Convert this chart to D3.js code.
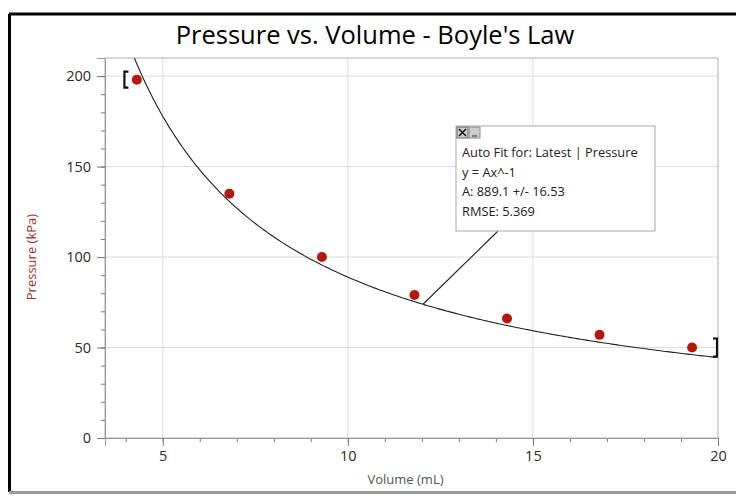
<!DOCTYPE html>
<html>
<head>
<meta charset="utf-8">
<script src="https://cdn.jsdelivr.net/npm/d3@7"></script>
<style>
  body { margin: 0; background: #fff; }
  svg { display: block; font-family: "Open Sans", "DejaVu Sans", sans-serif; }
</style>
</head>
<body>
<div id="chart"></div>
<script>
(function () {
    // Data
    var volume = [4.3, 6.8, 9.3, 11.8, 14.3, 16.8, 19.3];
    var pressure = [198, 135, 100, 79, 66, 57, 50];

    // Fit result shown in the box (y = A/x)
    var fitA = 889.1;
    var fitRange = [4.1, 20];
    var fitLines = ["Auto Fit for: Latest | Pressure", "y = Ax^-1", "A: 889.1 +/- 16.53", "RMSE: 5.369"];

    var xTicks = [5, 10, 15, 20];
    var yTicks = [0, 50, 100, 150, 200];

    var width = 736, height = 496;
    var margin = { top: 58, right: 18, bottom: 58, left: 105 };
    var innerWidth = width - margin.left - margin.right;
    var innerHeight = height - margin.top - margin.bottom;

    var svg = d3.select("#chart").append("svg")
        .attr("width", width)
        .attr("height", height);

    // Window frame
    svg.append("line").attr("x1", 9).attr("x2", width).attr("y1", 14).attr("y2", 14)
        .attr("stroke", "#000").attr("stroke-width", 3);
    svg.append("line").attr("x1", 9.5).attr("x2", 9.5).attr("y1", 14).attr("y2", 492)
        .attr("stroke", "#000").attr("stroke-width", 3);
    svg.append("rect").attr("x", 9).attr("y", 491).attr("width", width).attr("height", 3)
        .attr("fill", "#9a9a9a");

    // Title
    svg.append("text")
        .attr("x", 375).attr("y", 44)
        .attr("text-anchor", "middle")
        .attr("font-size", 25.5)
        .attr("fill", "#000")
        .text("Pressure vs. Volume - Boyle's Law");

    var g = svg.append("g").attr("transform", `translate(${margin.left}, ${margin.top})`);

    var x = d3.scaleLinear().domain([3.44, 20]).range([0, innerWidth]);
    var y = d3.scaleLinear().domain([0, 210]).range([innerHeight, 0]);

    // Grid lines
    g.append("g").selectAll("line").data(xTicks.slice(0, -1)).join("line")
        .attr("x1", d => x(d)).attr("x2", d => x(d))
        .attr("y1", 0).attr("y2", innerHeight)
        .attr("stroke", "#dcdcdc");
    g.append("g").selectAll("line").data(yTicks.slice(1)).join("line")
        .attr("x1", 0).attr("x2", innerWidth)
        .attr("y1", d => y(d)).attr("y2", d => y(d))
        .attr("stroke", "#dcdcdc");

    // Plot border
    g.append("rect").attr("width", innerWidth).attr("height", innerHeight)
        .attr("fill", "none").attr("stroke", "#b0b0b0");

    // Minor ticks
    g.append("g")
        .attr("transform", `translate(0, ${innerHeight})`)
        .call(d3.axisBottom(x).tickValues(d3.range(4, 21)).tickSize(4).tickFormat(""))
        .call(a => a.select(".domain").remove())
        .selectAll("line").attr("stroke", "#777");
    g.append("g")
        .call(d3.axisLeft(y).tickValues(d3.range(0, 211, 10)).tickSize(4).tickFormat(""))
        .call(a => a.select(".domain").remove())
        .selectAll("line").attr("stroke", "#777");

    // Major ticks
    var xAxis = g.append("g")
        .attr("transform", `translate(0, ${innerHeight})`)
        .call(d3.axisBottom(x).tickValues(xTicks).tickSize(8).tickPadding(5));
    var yAxis = g.append("g")
        .call(d3.axisLeft(y).tickValues(yTicks).tickSize(8).tickPadding(6));
    [xAxis, yAxis].forEach(function (a) {
        a.select(".domain").attr("stroke", "#999");
        a.selectAll("line").attr("stroke", "#777");
        a.selectAll("text").attr("fill", "#2a2a2a").attr("font-size", 14.5)
            .attr("font-family", "\"Open Sans\", \"DejaVu Sans\", sans-serif");
    });

    // Axis labels
    svg.append("text")
        .attr("x", margin.left + innerWidth / 2 - 6).attr("y", 484)
        .attr("text-anchor", "middle")
        .attr("font-size", 13)
        .attr("fill", "#4b5a4b")
        .text("Volume (mL)");
    svg.append("text")
        .attr("transform", `translate(36, ${margin.top + y(100)}) rotate(-90)`)
        .attr("text-anchor", "middle")
        .attr("font-size", 13)
        .attr("fill", "#a0302a")
        .text("Pressure (kPa)");

    // Clip for the fit curve
    svg.append("clipPath").attr("id", "plotClip")
        .append("rect").attr("width", innerWidth).attr("height", innerHeight);

    var curveX = d3.range(fitA / 210, 20.001, 0.05);
    var line = d3.line()
        .x(d => x(d))
        .y(d => y(fitA / d));
    g.append("path")
        .datum(curveX)
        .attr("clip-path", "url(#plotClip)")
        .attr("fill", "none")
        .attr("stroke", "#222")
        .attr("stroke-width", 1.1)
        .attr("d", line);

    // Data points
    g.append("g").selectAll("circle").data(volume).join("circle")
        .attr("cx", d => x(d))
        .attr("cy", (d, i) => y(pressure[i]))
        .attr("r", 5)
        .attr("fill", "#b4180a");

    // Fit range brackets
    var bl = x(fitRange[0]) - 5, by0 = y(pressure[0]);
    g.append("path")
        .attr("d", `M${bl + 4},${by0 - 8}H${bl}V${by0 + 8}H${bl + 4}`)
        .attr("fill", "none").attr("stroke", "#111").attr("stroke-width", 2.2);
    var br = x(fitRange[1]) - 1, by1 = y(pressure[pressure.length - 1]);
    g.append("path")
        .attr("d", `M${br - 4},${by1 - 9}H${br}V${by1 + 9}H${br - 4}`)
        .attr("fill", "none").attr("stroke", "#111").attr("stroke-width", 2.2);

    // Fit info box with pointer line
    var boxX = 456 - margin.left, boxY = 126 - margin.top, boxW = 199, boxH = 105;
    var anchorX = 12.03;
    g.append("line")
        .attr("x1", x(anchorX)).attr("y1", y(fitA / anchorX))
        .attr("x2", boxX + 42).attr("y2", boxY + boxH)
        .attr("stroke", "#222").attr("stroke-width", 1.1);
    g.append("rect")
        .attr("x", boxX).attr("y", boxY)
        .attr("width", boxW).attr("height", boxH)
        .attr("fill", "#fff")
        .attr("stroke", "#aaa");

    // Close / minimize buttons
    g.append("rect").attr("x", boxX + 1).attr("y", boxY + 1).attr("width", 11).attr("height", 11)
        .attr("fill", "#ccc").attr("stroke", "#666");
    g.append("path")
        .attr("d", `M${boxX + 3},${boxY + 3}L${boxX + 10},${boxY + 10}M${boxX + 10},${boxY + 3}L${boxX + 3},${boxY + 10}`)
        .attr("stroke", "#111").attr("stroke-width", 1.5);
    g.append("rect").attr("x", boxX + 13).attr("y", boxY + 1).attr("width", 11).attr("height", 11)
        .attr("fill", "#ccc").attr("stroke", "#888");
    g.append("line").attr("x1", boxX + 16).attr("x2", boxX + 21).attr("y1", boxY + 10).attr("y2", boxY + 10)
        .attr("stroke", "#333");

    g.append("g").selectAll("text").data(fitLines).join("text")
        .attr("x", boxX + 6)
        .attr("y", (d, i) => boxY + 31 + i * 19.5)
        .attr("font-size", 12.8)
        .attr("fill", "#222")
        .text(d => d);
})();
</script>
</body>
</html>
